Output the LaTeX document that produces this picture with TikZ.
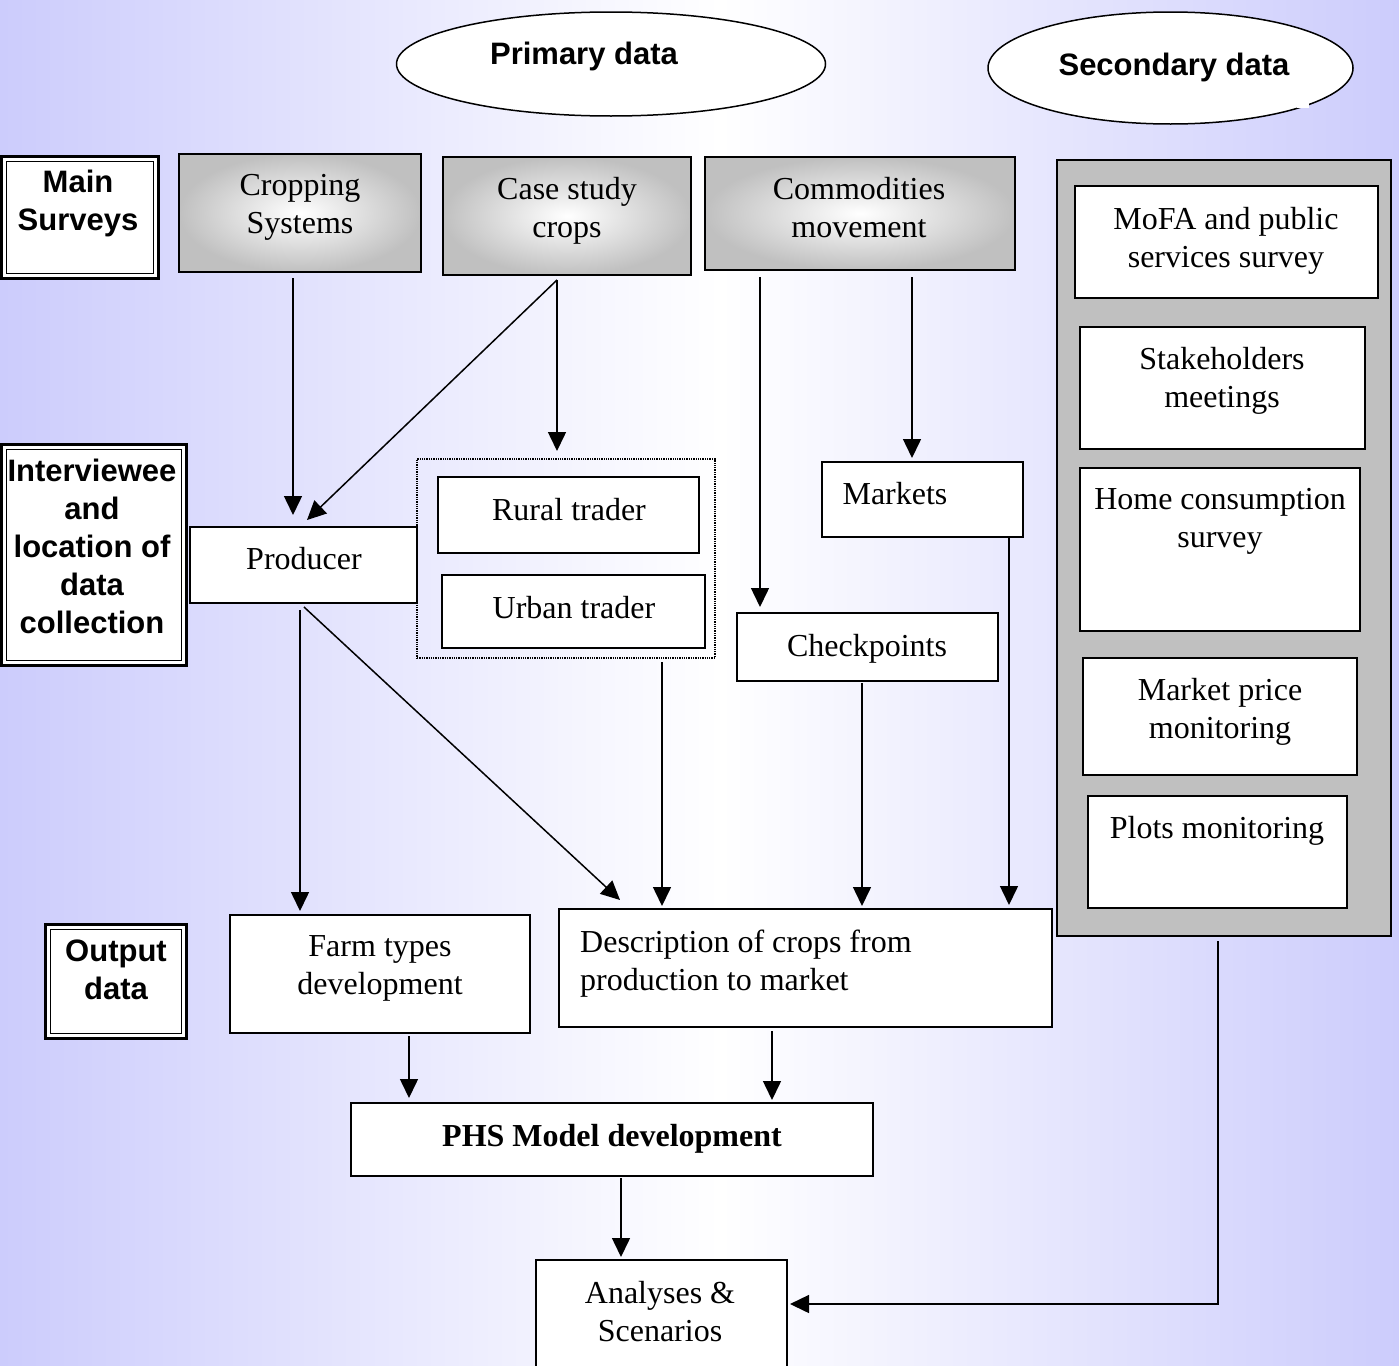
\documentclass[tikz,border=0pt]{standalone}
\usepackage{fontspec}
\setmainfont{Liberation Serif}
\newfontfamily\labsans{Liberation Sans}
\usetikzlibrary{arrows.meta,calc,shapes.geometric}
\definecolor{lav}{RGB}{204,204,252}
\definecolor{boxgray}{RGB}{192,192,192}
\begin{document}
\begin{tikzpicture}[x=1pt,y=-1pt,
  serif/.style={font=\fontsize{32}{38}\selectfont, align=center, inner sep=0pt, anchor=north},
  lab/.style={font=\labsans\bfseries\fontsize{31}{38}\selectfont, align=center, inner sep=0pt, anchor=north},
  box/.style={draw, line width=1.6pt, fill=white, inner sep=0pt, outer sep=0pt},
  gbox/.style={draw, line width=1.6pt, inner color=white, outer color=boxgray, inner sep=0pt, outer sep=0pt},
  dbl/.style={draw, line width=3pt, fill=white, inner sep=0pt, outer sep=0pt},
  dblin/.style={line width=1.3pt},
  oval/.style={ellipse, draw, line width=1.5pt, fill=white, inner sep=0pt, outer sep=0pt},
  arr/.style={line width=1.5pt, -{Triangle[length=19pt,width=18pt]}}
]
\useasboundingbox (0,0) rectangle (1399,1365);
\shade[left color=lav, right color=white] (0,0) rectangle (720,1365);
\shade[left color=white, right color=lav] (720,0) rectangle (1399,1365);

% ellipses
\node[oval, minimum width=429pt, minimum height=104pt] (prim) at (611,64) {};
\node[lab] (tprim) at (584,42) {Primary data};
\node[oval, minimum width=365pt, minimum height=112pt] (sec2) at (1170.5,68) {};
\fill[white] (1297,99) rectangle (1309,108);
\node[lab] (tsec2) at (1174,53) {Secondary data};

% row labels
\node[dbl, minimum width=157pt, minimum height=122pt] (ms) at (80,217.5) {};
\draw[dblin] ($(ms.north west)+(5.2,5.2)$) rectangle ($(ms.south east)+(-5.2,-5.2)$);
\node[lab] (tms) at (78,170) {Main\\Surveys};
\node[dbl, minimum width=185pt, minimum height=221pt] (iw) at (94,555) {};
\draw[dblin] ($(iw.north west)+(5.2,5.2)$) rectangle ($(iw.south east)+(-5.2,-5.2)$);
\node[lab] (tiw) at (92,459) {Interviewee\\and\\location of\\data\\collection};
\node[dbl, minimum width=141pt, minimum height=114pt] (od) at (116,981.5) {};
\draw[dblin] ($(od.north west)+(5.2,5.2)$) rectangle ($(od.south east)+(-5.2,-5.2)$);
\node[lab] (tod) at (116,940) {Output\\data};

% main surveys
\node[gbox, minimum width=242pt, minimum height=118pt] (crop) at (300,213) {};
\node[serif] (tcrop) at (300,174) {Cropping\\Systems};
\node[gbox, minimum width=248pt, minimum height=118pt] (case) at (567,216) {};
\node[serif] (tcase) at (567,177) {Case study\\crops};
\node[gbox, minimum width=310pt, minimum height=113pt] (comm) at (860,213.5) {};
\node[serif] (tcomm) at (859,177) {Commodities\\movement};

% secondary data container
\node[draw, line width=1.6pt, fill=boxgray, inner sep=0pt, outer sep=0pt, minimum width=334pt, minimum height=776pt] (sec) at (1224,548) {};
\node[box, minimum width=303pt, minimum height=112pt] (mofa) at (1226.5,242) {};
\node[serif] (tmofa) at (1226,207) {MoFA and public\\services survey};
\node[box, minimum width=285pt, minimum height=122pt] (stake) at (1222.5,388) {};
\node[serif] (tstake) at (1222,347) {Stakeholders\\meetings};
\node[box, minimum width=280pt, minimum height=163pt] (home) at (1220,549.5) {};
\node[serif] (thome) at (1220,488) {Home consumption\\survey};
\node[box, minimum width=274pt, minimum height=117pt] (mprice) at (1220,716.5) {};
\node[serif] (tmprice) at (1220,678) {Market price\\monitoring};
\node[box, minimum width=259pt, minimum height=112pt] (plots) at (1217.5,852) {};
\node[serif] (tplots) at (1217,816) {Plots monitoring};

% interviewees
\node[box, minimum width=227pt, minimum height=76pt] (prod) at (303.5,565) {};
\node[serif] (tprod) at (304,547) {Producer};
\node[draw, densely dotted, line width=1.3pt, inner sep=0pt, outer sep=0pt, minimum width=298pt, minimum height=199pt] (grp) at (566,558.5) {};
\node[box, minimum width=261pt, minimum height=76pt] (rural) at (568.5,515) {};
\node[serif] (trural) at (569,498) {Rural trader};
\node[box, minimum width=263pt, minimum height=73pt] (urban) at (573.5,611.5) {};
\node[serif] (turban) at (574,596) {Urban trader};
\node[box, minimum width=201pt, minimum height=75pt] (mkt) at (922.5,499.5) {};
\node[serif] (tmkt) at (895,482) {Markets};
\node[box, minimum width=261pt, minimum height=68pt] (chk) at (867.5,647) {};
\node[serif] (tchk) at (867,634) {Checkpoints};

% outputs
\node[box, minimum width=300pt, minimum height=118pt] (farm) at (380,974) {};
\node[serif] (tfarm) at (380,935) {Farm types\\development};
\node[box, minimum width=493pt, minimum height=118pt] (desc) at (805.5,968) {};
\node[serif, align=left, anchor=north west] (tdesc) at (580,930) {Description of crops from\\production to market};
\node[box, minimum width=522pt, minimum height=73pt] (phs) at (612,1139.5) {};
\node[serif, font=\bfseries\fontsize{32}{38}\selectfont] (tphs) at (612,1124) {PHS Model development};
\node[box, minimum width=251pt, minimum height=115pt] (ana) at (661.5,1317.5) {};
\node[serif] (tana) at (660,1281) {Analyses \&\\Scenarios};

% connectors
\draw[arr] ($(crop.south)+(-7,6)$) -- ($(prod.north)+(-10.5,-12)$);
\draw[arr] ($(case.south)+(-10,5)$) -- ($(prod.north)+(3.5,-7)$);
\draw[arr] ($(case.south)+(-10,5)$) -- ($(grp.north)+(-9,-8)$);
\draw[arr] ($(comm.south)+(-100,7)$) -- ($(chk.north)+(-107.5,-6)$);
\draw[arr] ($(comm.south)+(52,7)$) -- ($(mkt.north)+(-10.5,-4)$);
\draw[arr] ($(prod.south)+(-3.5,7)$) -- ($(farm.north)+(-80,-4)$);
\draw[arr] ($(prod.south)+(0.5,4)$) -- ($(desc.north)+(-185.5,-9)$);
\draw[arr] ($(grp.south)+(96,4)$) -- ($(desc.north)+(-143.5,-3)$);
\draw[arr] ($(chk.south)+(-5.5,2)$) -- ($(desc.north)+(56.5,-3)$);
\draw[arr] ($(mkt.south)+(86.5,0)$) -- ($(desc.north)+(203.5,-4)$);
\draw[arr] ($(farm.south)+(29,3)$) -- ($(phs.north)+(-203,-5)$);
\draw[arr] ($(desc.south)+(-33.5,4)$) -- ($(phs.north)+(160,-3)$);
\draw[arr] ($(phs.south)+(9,2)$) -- ($(ana.north)+(-40.5,-3)$);
\draw[arr] ($(sec.south)+(-6,5)$) |- ($(ana.north east)+(3,44)$);
\end{tikzpicture}
\end{document}
